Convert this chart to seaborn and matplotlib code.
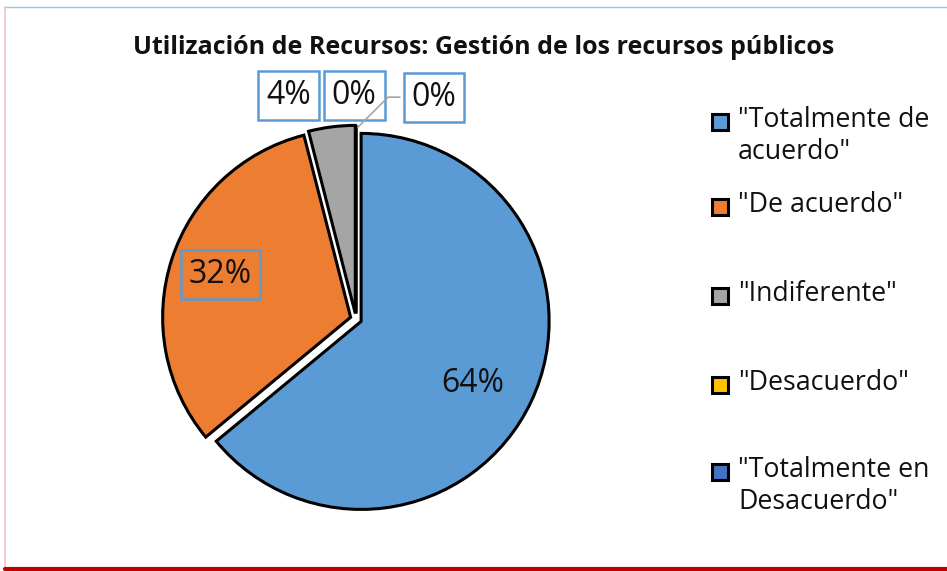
import matplotlib
matplotlib.use("Agg")
import matplotlib.pyplot as plt
import seaborn as sns
import numpy as np
from matplotlib.patches import Rectangle

sns.set_style("white")
plt.rcParams['font.family'] = ['Open Sans', 'DejaVu Sans']

categories = ['"Totalmente de\nacuerdo"', '"De acuerdo"', '"Indiferente"',
              '"Desacuerdo"', '"Totalmente en\nDesacuerdo"']
values = [64, 32, 4, 0, 0]
labels = ['64%', '32%', '4%', '0%', '0%']
colors = ['#5B9BD5', '#ED7D31', '#A5A5A5', '#FFC000', '#4472C4']
title = "Utilización de Recursos: Gestión de los recursos públicos"

W, H = 947, 571
fig = plt.figure(figsize=(W / 100, H / 100), dpi=100)

# pie axes, centre ~ (356, 319) px, radius ~188 px
cx, cy, R = 356, 319, 188
lim = 1.3
half = R * lim
ax = fig.add_axes([(cx - half) / W, (H - cy - half) / H, 2 * half / W, 2 * half / H])

wedges, _ = ax.pie(values, colors=colors, startangle=90, counterclock=False,
                   explode=[0.03] * 5, radius=1.0,
                   wedgeprops=dict(edgecolor='black', linewidth=2.2))
ax.set_xlim(-lim, lim)
ax.set_ylim(-lim, lim)
ax.set_aspect('equal')
ax.axis('off')

fs = 23
txt = '#111111'
box = dict(boxstyle='square,pad=0.25', facecolor='white', edgecolor='#5B9BD5', linewidth=1.8)

# inside labels
for w, lab, r, dang in [(wedges[0], labels[0], 0.68, -4), (wedges[1], labels[1], 0.73, 0)]:
    ang = np.deg2rad((w.theta1 + w.theta2) / 2 + dang)
    x0, y0 = w.center
    b = None
    if lab == '32%':
        b = dict(boxstyle='square,pad=0.25', facecolor='none', edgecolor='#5B9BD5', linewidth=1.8)
    ax.text(x0 + r * np.cos(ang), y0 + r * np.sin(ang), lab, ha='center', va='center',
            fontsize=fs, color=txt, bbox=b)

# outside labels near the top
ax.text(-0.36, 1.19, labels[2], ha='center', va='center', fontsize=fs, color=txt, bbox=box)
ax.text(-0.01, 1.19, labels[3], ha='center', va='center', fontsize=fs, color=txt, bbox=box)
ax.annotate(labels[4], xy=(0.0, 1.01), xytext=(0.415, 1.18), ha='center', va='center',
            fontsize=fs, color=txt, bbox=box,
            arrowprops=dict(arrowstyle='-', color='#A5A5A5', linewidth=1.2,
                            connectionstyle='angle,angleA=0,angleB=45'))

fig.text(484 / W, 1 - 47 / H, title, ha='center', va='center', fontsize=18, fontweight='bold',
         color=txt)

# legend
leg_y = [122, 207, 296, 385, 472]
for c, lab, y in zip(colors, categories, leg_y):
    fig.patches.append(Rectangle((712 / W, 1 - (y + 8) / H), 16 / W, 16 / H,
                                 transform=fig.transFigure, facecolor=c,
                                 edgecolor='black', linewidth=2.2))
    fig.text(738 / W, 1 - (y - 16) / H, lab, ha='left', va='top', fontsize=19.3,
             color=txt, linespacing=1.2)

# frame lines
fig.add_artist(plt.Line2D([5 / W, 1], [1 - 7 / H] * 2, transform=fig.transFigure, color='#9DC3E6', lw=1))
fig.add_artist(plt.Line2D([5 / W] * 2, [1 - 7 / H, 3 / H], transform=fig.transFigure, color='#F2C4C4', lw=1.2))
fig.add_artist(plt.Line2D([5 / W, 1], [2 / H] * 2, transform=fig.transFigure, color='#C00000', lw=3))

fig.savefig("out.png", dpi=100)
